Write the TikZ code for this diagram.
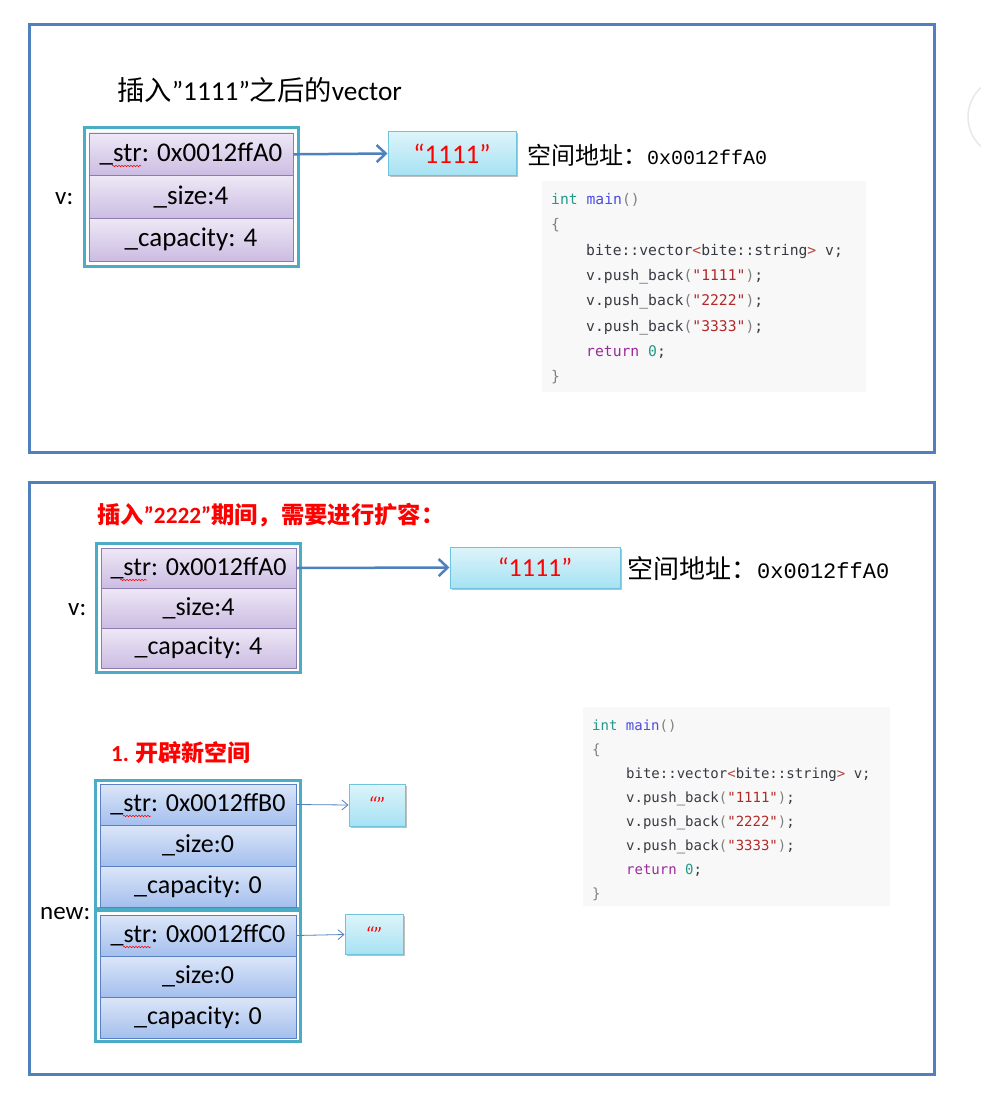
\documentclass[tikz,border=0pt]{standalone}
\usepackage{fontspec}
\setmainfont{Carlito}
\newfontfamily\cjk{Noto Sans CJK SC}
\newfontfamily\codefont{DejaVu Sans Mono}
\newfontfamily\addrfont{Liberation Mono}
\usetikzlibrary{arrows.meta,decorations.pathmorphing,shadows}
\definecolor{frameblue}{HTML}{4F81BD}
\definecolor{tealb}{HTML}{4BACC6}
\definecolor{purptop}{HTML}{EEE8F6}
\definecolor{purpbot}{HTML}{CBBCE2}
\definecolor{purpline}{HTML}{8E7CB0}
\definecolor{bluetop}{HTML}{DCE6F8}
\definecolor{bluebot}{HTML}{A4BFEE}
\definecolor{blueline}{HTML}{5A80C4}
\definecolor{cyantop}{HTML}{DDF4FA}
\definecolor{cyanbot}{HTML}{A6E2F3}
\definecolor{cyanline}{HTML}{6FC4DB}
\definecolor{codebg}{HTML}{F8F8F8}
\definecolor{colInt}{HTML}{22998A}
\definecolor{colFn}{HTML}{4B4BE6}
\definecolor{colStr}{HTML}{B02A2A}
\definecolor{colRet}{HTML}{9A2A9A}
\definecolor{colPun}{HTML}{808080}
\definecolor{colTxt}{HTML}{383A42}
\definecolor{colAng}{HTML}{B0453A}
\definecolor{titlered}{HTML}{FF0000}
\newcommand\ckInt[1]{\textcolor{colInt}{#1}}
\newcommand\ckFn[1]{\textcolor{colFn}{#1}}
\newcommand\ckStr[1]{\textcolor{colStr}{#1}}
\newcommand\ckRet[1]{\textcolor{colRet}{#1}}
\newcommand\ckPun[1]{\textcolor{colPun}{#1}}
\newcommand\ckAng[1]{\textcolor{colAng}{#1}}
\tikzset{
  frame/.style={draw=frameblue, line width=3pt},
  outerbox/.style={draw=tealb, line width=3pt, fill=white, inner sep=0pt},
  prow/.style={draw=purpline, line width=0.8pt, top color=purptop, bottom color=purpbot,
    inner sep=0pt, font=\fontsize{27}{27}\selectfont},
  brow/.style={draw=blueline, line width=0.8pt, top color=bluetop, bottom color=bluebot,
    inner sep=0pt, minimum width=196pt, minimum height=41pt, font=\fontsize{26}{26}\selectfont},
  sbox/.style={draw=cyanline, line width=1pt, top color=cyantop, bottom color=cyanbot,
    inner sep=0pt, text=titlered, drop shadow={shadow xshift=1.5pt,shadow yshift=-1.5pt,opacity=0.25,fill=black}},
  bigarrow/.style={draw=frameblue, line width=2.5pt, -{Straight Barb[length=9pt,width=17pt]}},
  smallarrow/.style={draw=frameblue, line width=0.8pt, -{Straight Barb[length=6pt,width=10pt]}},
  squig/.style={draw=red, line width=0.5pt, decorate, decoration={snake,segment length=3pt,amplitude=0.8pt}},
  codebox/.style={fill=codebg, draw=none},
  codetop/.style={anchor=base west, inner sep=0pt, text=colTxt, font=\codefont\fontsize{14.7}{14.7}\selectfont},
  codebot/.style={anchor=base west, inner sep=0pt, text=colTxt, font=\codefont\fontsize{14}{14}\selectfont},
  lbl/.style={anchor=west, inner sep=0pt},
}
\begin{document}
\begin{tikzpicture}[x=1pt,y=1pt]
\useasboundingbox (0,0) rectangle (981,-1113);
\fill[white] (0,0) rectangle (981,-1113);
\draw[gray!18, line width=1.5pt] (1008,-117) circle (40);

% ===== top panel =====
\draw[frame] (29,-25) rectangle (934,-452);
\node[lbl, font=\fontsize{27.3}{27.3}\selectfont] (title1) at (117,-90) {{\cjk 插入}”1111”{\cjk 之后的}vector};

\node[outerbox, minimum width=214pt, minimum height=138pt] (v1box) at (191,-197) {};
\node[prow, minimum width=204pt, minimum height=42.7pt] (v1s) at (191,-154.3) {\_str: 0x0012ffA0};
\node[prow, minimum width=204pt, minimum height=42.7pt] (v1z) at (191,-197) {\_size:4};
\node[prow, minimum width=204pt, minimum height=42.7pt] (v1c) at (191,-239.7) {\_capacity: 4};
\draw[squig] (112,-166) -- (141,-166);
\node[lbl, font=\fontsize{25}{25}\selectfont] (v1lbl) at (55,-199) {v:};

\node[sbox, minimum width=128pt, minimum height=43pt, font=\fontsize{27}{27}\selectfont] (s1) at (452,-153.5) {“1111”};
\draw[bigarrow] (v1s.east) -- (s1.west);
\node[lbl] (addr1) at (527,-155) {{\cjk\fontsize{24}{24}\selectfont 空间地址：}{\addrfont\fontsize{20}{20}\selectfont 0x0012ffA0}};

\fill[codebox] (542,-181) rectangle (866,-392);
\node[codetop] (ct1) at (551,-204.5) {\ckInt{int} \ckFn{main}\ckPun{()}};
\node[codetop] (ct2) at (551,-229.8) {\ckPun{\{}};
\node[codetop] (ct3) at (586,-255.1) {bite::vector\ckAng{<}bite::string\ckAng{>} v;};
\node[codetop] (ct4) at (586,-280.4) {v.push\_back\ckPun{(}\ckStr{"1111"}\ckPun{)};};
\node[codetop] (ct5) at (586,-305.7) {v.push\_back\ckPun{(}\ckStr{"2222"}\ckPun{)};};
\node[codetop] (ct6) at (586,-331.0) {v.push\_back\ckPun{(}\ckStr{"3333"}\ckPun{)};};
\node[codetop] (ct7) at (586,-356.3) {\ckRet{return} \ckInt{0};};
\node[codetop] (ct8) at (551,-381.6) {\ckPun{\}}};

% ===== bottom panel =====
\draw[frame] (29,-482) rectangle (934,-1074);
\node[lbl, text=titlered, font=\bfseries\fontsize{23.3}{23.3}\selectfont] (title2) at (97,-515) {{\cjk 插入}”2222”{\cjk 期间，需要进行扩容：}};

\node[outerbox, minimum width=204pt, minimum height=129pt] (v2box) at (198,-607.5) {};
\node[prow, minimum width=195pt, minimum height=40pt, font=\fontsize{26}{26}\selectfont] (v2s) at (198.5,-568) {\_str: 0x0012ffA0};
\node[prow, minimum width=195pt, minimum height=40pt, font=\fontsize{26}{26}\selectfont] (v2z) at (198.5,-608) {\_size:4};
\node[prow, minimum width=195pt, minimum height=40pt, font=\fontsize{26}{26}\selectfont] (v2c) at (198.5,-648) {\_capacity: 4};
\draw[squig] (120,-580) -- (147,-580);
\node[lbl, font=\fontsize{25}{25}\selectfont] (v2lbl) at (68,-610) {v:};

\node[sbox, minimum width=170pt, minimum height=41pt, font=\fontsize{26}{26}\selectfont] (s2) at (535,-567.5) {“1111”};
\draw[bigarrow] (v2s.east) -- (s2.west);
\node[lbl] (addr2) at (627,-569) {{\cjk\fontsize{26}{26}\selectfont 空间地址：}{\addrfont\fontsize{22}{22}\selectfont 0x0012ffA0}};

\fill[codebox] (583,-707) rectangle (890,-906);
\node[codebot] (cb1) at (592,-730) {\ckInt{int} \ckFn{main}\ckPun{()}};
\node[codebot] (cb2) at (592,-754) {\ckPun{\{}};
\node[codebot] (cb3) at (626,-778) {bite::vector\ckAng{<}bite::string\ckAng{>} v;};
\node[codebot] (cb4) at (626,-802) {v.push\_back\ckPun{(}\ckStr{"1111"}\ckPun{)};};
\node[codebot] (cb5) at (626,-826) {v.push\_back\ckPun{(}\ckStr{"2222"}\ckPun{)};};
\node[codebot] (cb6) at (626,-850) {v.push\_back\ckPun{(}\ckStr{"3333"}\ckPun{)};};
\node[codebot] (cb7) at (626,-874) {\ckRet{return} \ckInt{0};};
\node[codebot] (cb8) at (592,-898) {\ckPun{\}}};

\node[lbl, text=titlered, font=\bfseries\fontsize{23}{23}\selectfont] (title3) at (111,-753) {1. {\cjk 开辟新空间}};

% new block A
\node[outerbox, minimum width=205pt, minimum height=128pt] (nAbox) at (197.5,-844) {};
\node[brow] (nAs) at (198,-804.5) {\_str: 0x0012ffB0};
\node[brow] (nAz) at (198,-845.5) {\_size:0};
\node[brow] (nAc) at (198,-886.5) {\_capacity: 0};
\draw[squig] (123,-816) -- (151,-816);
% new block B
\node[outerbox, minimum width=205pt, minimum height=131pt] (nBbox) at (197.5,-976) {};
\node[brow] (nBs) at (198,-935.5) {\_str: 0x0012ffC0};
\node[brow] (nBz) at (198,-976.5) {\_size:0};
\node[brow] (nBc) at (198,-1017.5) {\_capacity: 0};
\draw[squig] (123,-947) -- (151,-947);
\node[lbl, font=\fontsize{25}{25}\selectfont] (newlbl) at (40,-914) {new:};

\node[sbox, minimum width=56pt, minimum height=42pt, font=\itshape\fontsize{22}{22}\selectfont] (e1) at (377,-805) {“”};
\node[sbox, minimum width=58pt, minimum height=40pt, font=\itshape\fontsize{22}{22}\selectfont] (e2) at (374,-934.5) {“”};
\draw[smallarrow] (nAs.east) -- (e1.west);
\draw[smallarrow] (nBs.east) -- (e2.west);
\end{tikzpicture}
\end{document}
